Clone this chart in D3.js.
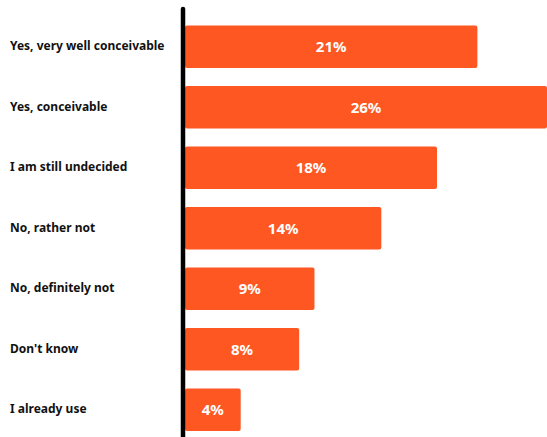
<!DOCTYPE html>
<html>
<head>
<meta charset="utf-8">
<script src="https://cdn.jsdelivr.net/npm/d3@7"></script>
<style>
  body { margin: 0; background: #fff; }
  svg { display: block; font-family: "Noto Sans", sans-serif; }
</style>
</head>
<body>
<svg id="chart"></svg>
<script>
const categories = [
  "Yes, very well conceivable",
  "Yes, conceivable",
  "I am still undecided",
  "No, rather not",
  "No, definitely not",
  "Don't know",
  "I already use"
];
const values = [21, 26, 18.1, 14.1, 9.3, 8.2, 4];
const valueLabels = ["21%", "26%", "18%", "14%", "9%", "8%", "4%"];

const width = 547, height = 437;
const axisX = 183;

const svg = d3.select("#chart").attr("width", width).attr("height", height);

const x = d3.scaleLinear().domain([0, 26]).range([axisX + 2, 547]);
const y = d3.scaleBand().domain(categories).range([16.5, 440]).paddingInner(0.3).paddingOuter(0.15);

const data = categories.map((c, i) => ({ cat: c, v: values[i], label: valueLabels[i] }));

// bars
svg.selectAll(".bar")
  .data(data)
  .enter()
  .append("rect")
  .attr("class", "bar")
  .attr("x", x(0))
  .attr("y", d => y(d.cat))
  .attr("width", d => x(d.v) - x(0))
  .attr("height", y.bandwidth())
  .attr("rx", 2)
  .attr("fill", "#FF5722");

// value labels inside bars
svg.selectAll(".val")
  .data(data)
  .enter()
  .append("text")
  .attr("class", "val")
  .attr("x", d => (x(0) + x(d.v)) / 2)
  .attr("y", d => y(d.cat) + y.bandwidth() / 2)
  .attr("dy", "0.36em")
  .attr("text-anchor", "middle")
  .attr("fill", "#fff")
  .attr("font-size", 15)
  .attr("font-weight", 700)
  .text(d => d.label);

// category labels
svg.selectAll(".cat")
  .data(data)
  .enter()
  .append("text")
  .attr("class", "cat")
  .attr("x", 10)
  .attr("y", d => y(d.cat) + y.bandwidth() / 2)
  .attr("dy", "0.3em")
  .attr("fill", "#111")
  .attr("font-size", 12)
  .attr("font-weight", 700)
  .text(d => d.cat);

// vertical axis line
svg.append("line")
  .attr("x1", axisX).attr("x2", axisX)
  .attr("y1", 9).attr("y2", height + 5)
  .attr("stroke", "#000")
  .attr("stroke-width", 4.5)
  .attr("stroke-linecap", "round");
</script>
</body>
</html>
